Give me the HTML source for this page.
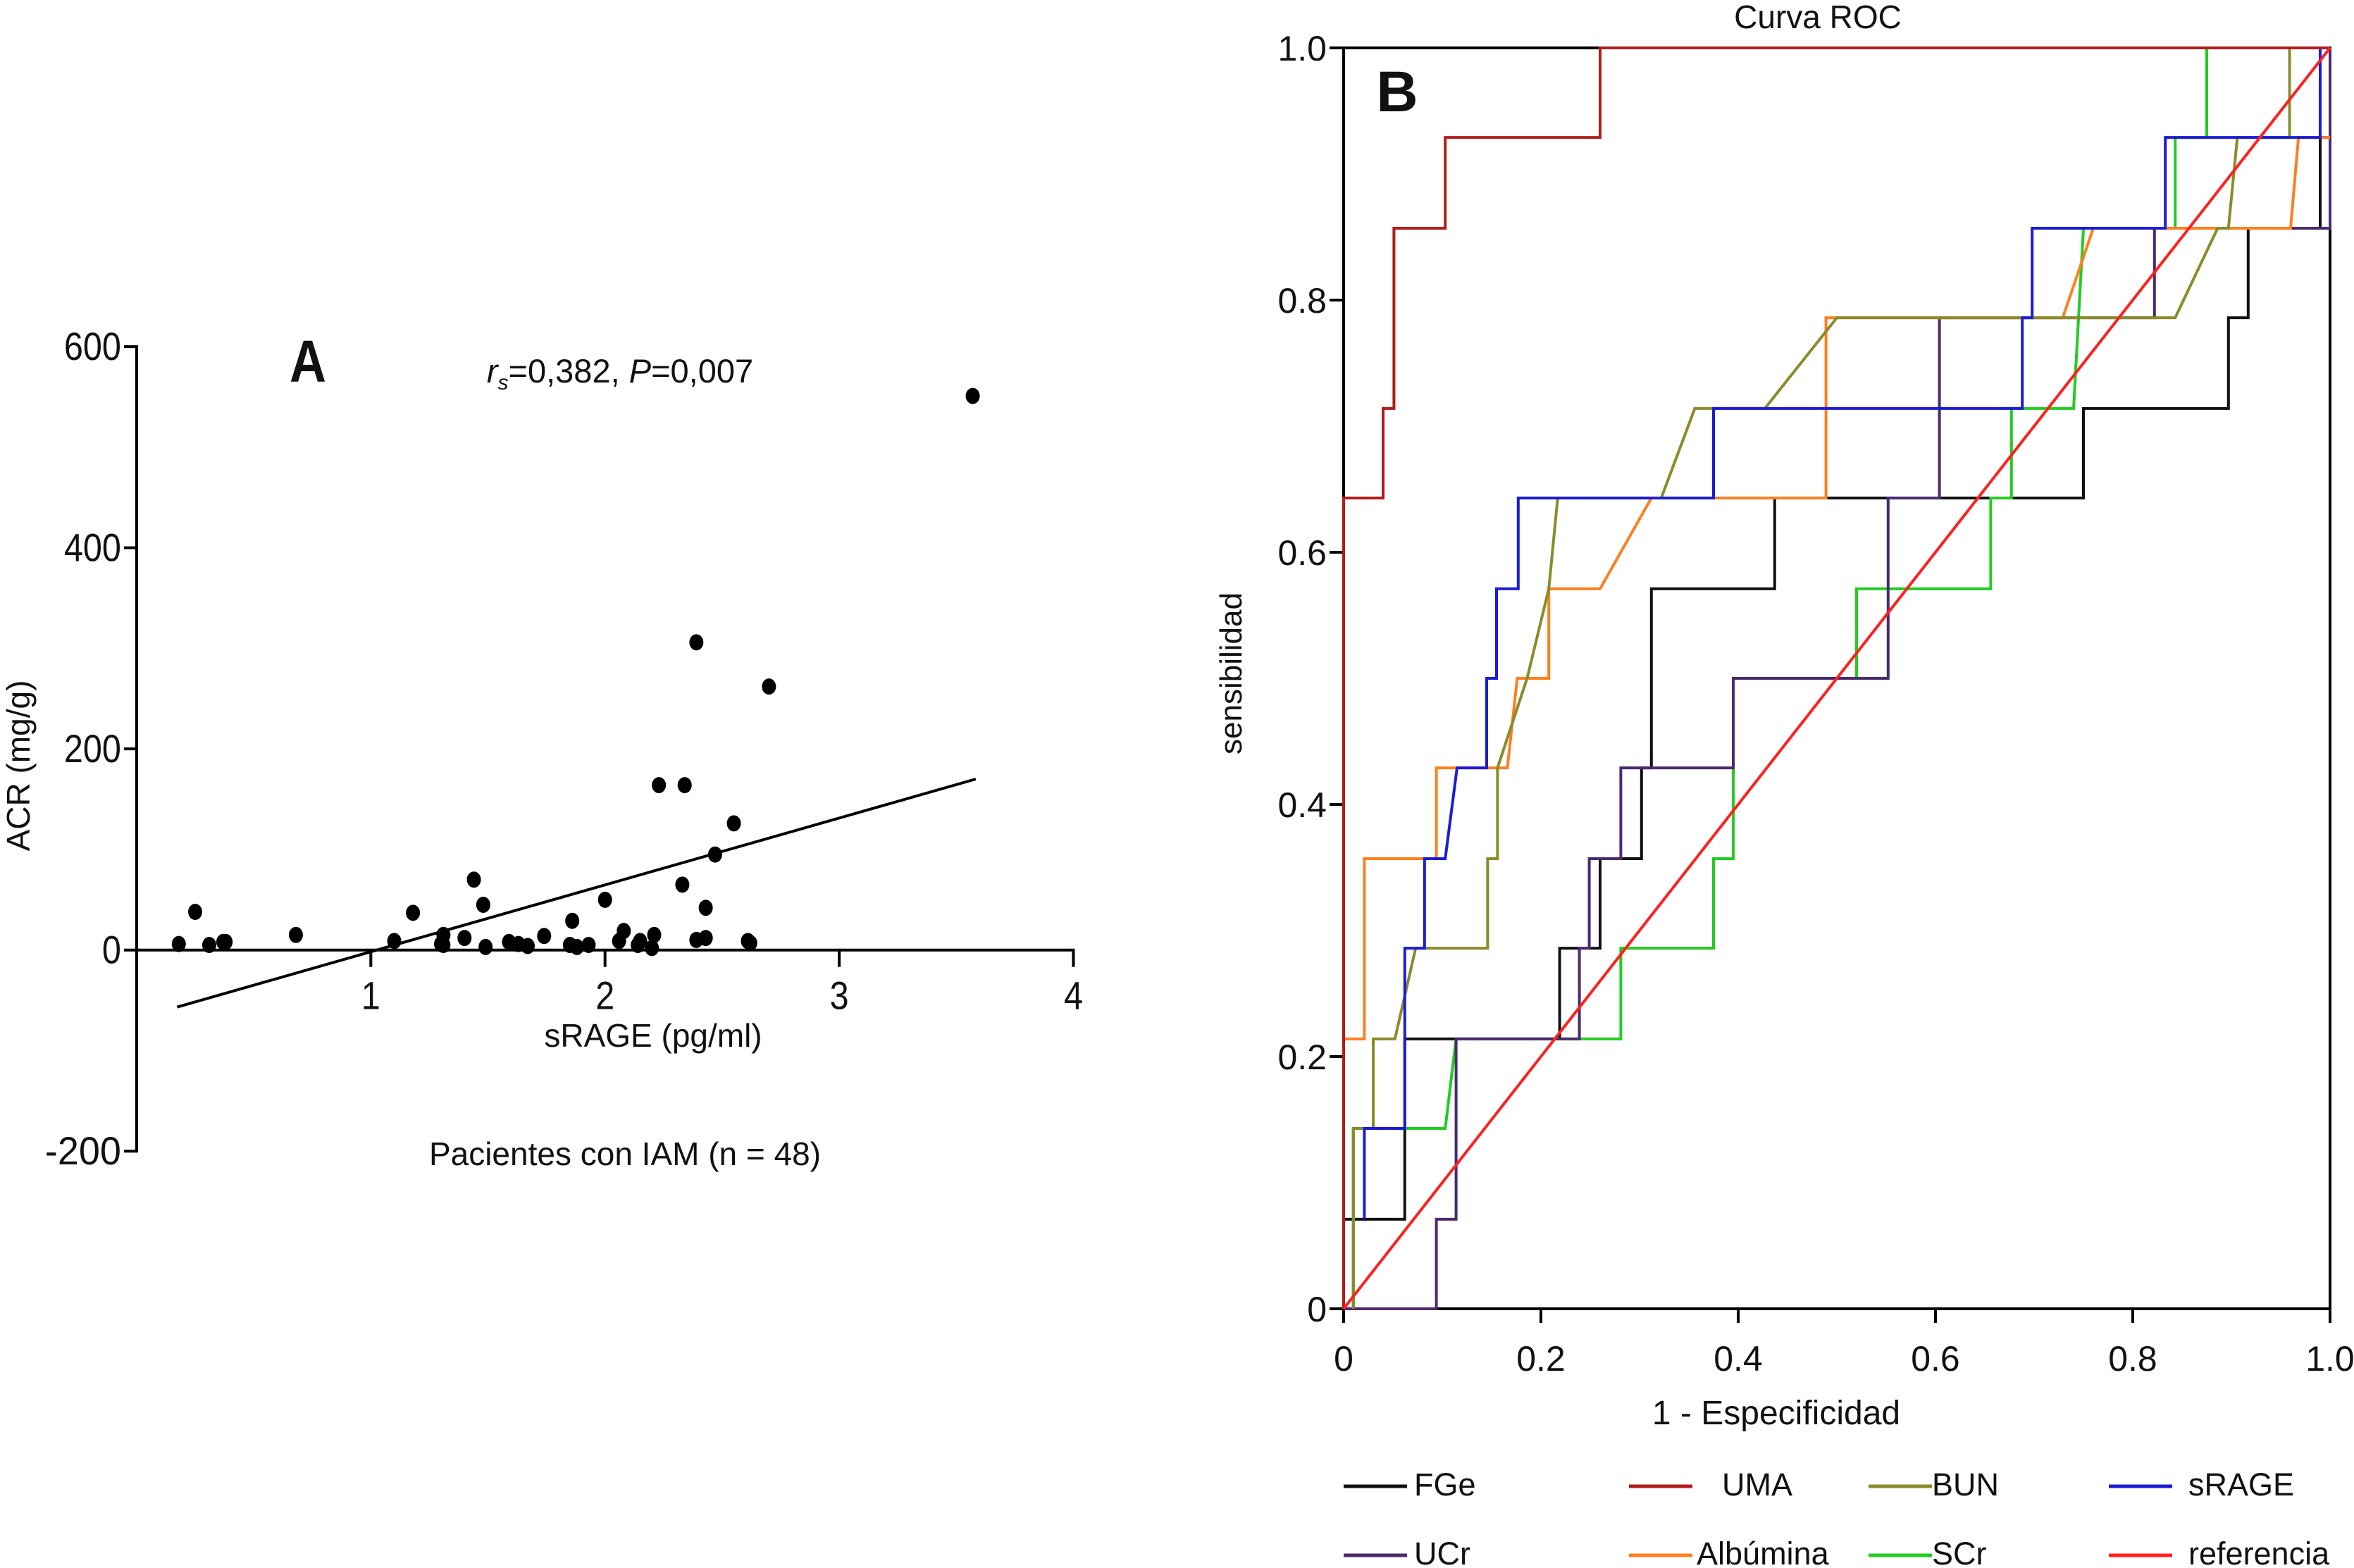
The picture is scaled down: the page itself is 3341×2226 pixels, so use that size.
<!DOCTYPE html>
<html><head><meta charset="utf-8"><style>
html,body{margin:0;padding:0;background:#fff;}
svg{display:block;font-family:"Liberation Sans",Arial,sans-serif;}
</style></head><body>
<svg id="chart" xmlns="http://www.w3.org/2000/svg" width="3341" height="2226" viewBox="0 0 3341 2226">
<rect width="3341" height="2226" fill="#fff"/>
<g id="panelA"></g>
<g id="panelB"></g>
</svg>
<script>
// ---------- Panel A data ----------
const aXTicks = [1, 2, 3, 4];
const aYTicks = [600, 400, 200, 0, -200];
const sragX = [0.18,0.25,0.31,0.37,0.38,0.68,1.10,1.18,1.30,1.31,1.31,1.40,1.44,1.48,1.49,1.59,1.63,1.67,1.74,1.86,1.85,1.88,1.93,2.00,2.06,2.08,2.14,2.15,2.20,2.21,2.23,2.34,2.33,2.39,2.39,2.43,2.43,2.47,2.55,2.61,2.62,2.70,3.57];
const acrY  = [6,38,5,8,8,15,9,37,6,15,5,12,70,45,3,8,6,4,14,29,5,3,5,50,9,19,5,9,2,15,164,164,65,306,10,12,42,95,126,9,7,262,551];
const fitX = [0.173, 3.583];
const fitY = [-56.7, 170];

// ---------- Panel B data ----------
const bTicks = [0, 0.2, 0.4, 0.6, 0.8, 1.0];
const bTickLabels = ["0","0.2","0.4","0.6","0.8","1.0"];
const rocNames = ["FGe","SCr","UCr","Albúmina","BUN","sRAGE","UMA","referencia"];
const rocColors = ["#111111","#22cc22","#4b2a6e","#ff7f1e","#8b8b2a","#1c1cd6","#b21c1c","#ff2020"];
const fgeFpr = [0,0,0.062,0.062,0.219,0.219,0.26,0.26,0.302,0.302,0.312,0.312,0.437,0.437,0.75,0.75,0.897,0.897,0.917,0.917,0.99,0.99,1,1];
const fgeTpr = [0,0.071,0.071,0.214,0.214,0.286,0.286,0.357,0.357,0.429,0.429,0.571,0.571,0.643,0.643,0.714,0.714,0.786,0.786,0.857,0.857,0.929,0.929,1];
const ucrFpr = [0,0.094,0.094,0.114,0.114,0.239,0.239,0.249,0.249,0.281,0.281,0.395,0.395,0.552,0.552,0.604,0.604,0.822,0.822,1,1];
const ucrTpr = [0,0,0.071,0.071,0.214,0.214,0.286,0.286,0.357,0.357,0.429,0.429,0.5,0.5,0.643,0.643,0.786,0.786,0.857,0.857,1];
const scrFpr = [0.01,0.01,0.103,0.114,0.281,0.281,0.375,0.375,0.395,0.395,0.52,0.52,0.656,0.656,0.677,0.677,0.74,0.75,0.843,0.843,0.875,0.875,1];
const scrTpr = [0,0.143,0.143,0.214,0.214,0.286,0.286,0.357,0.357,0.5,0.5,0.571,0.571,0.643,0.643,0.714,0.714,0.857,0.857,0.929,0.929,1,1];
const albFpr = [0,0,0.021,0.021,0.094,0.094,0.166,0.176,0.208,0.208,0.26,0.312,0.489,0.489,0.729,0.76,0.96,0.968,1];
const albTpr = [0,0.214,0.214,0.357,0.357,0.429,0.429,0.5,0.5,0.571,0.571,0.643,0.643,0.786,0.786,0.857,0.857,0.929,0.929];
const bunFpr = [0.0097,0.0097,0.03,0.03,0.052,0.073,0.146,0.146,0.156,0.156,0.186,0.208,0.217,0.322,0.356,0.427,0.5,0.843,0.886,0.897,0.906,0.959,0.959,1];
const bunTpr = [0,0.143,0.143,0.214,0.214,0.286,0.286,0.357,0.357,0.429,0.5,0.571,0.643,0.643,0.714,0.714,0.786,0.786,0.857,0.857,0.929,0.929,1,1];
const sragFpr = [0.021,0.021,0.062,0.062,0.082,0.082,0.103,0.115,0.145,0.145,0.155,0.155,0.177,0.177,0.375,0.375,0.688,0.688,0.698,0.698,0.833,0.833,0.99,0.99,1];
const sragTpr = [0.071,0.143,0.143,0.286,0.286,0.357,0.357,0.429,0.429,0.5,0.5,0.571,0.571,0.643,0.643,0.714,0.714,0.786,0.786,0.857,0.857,0.929,0.929,1,1];
const umaFpr = [0,0,0.04,0.04,0.051,0.051,0.103,0.103,0.26,0.26,1];
const umaTpr = [0,0.643,0.643,0.714,0.714,0.857,0.857,0.929,0.929,1,1];
const refFpr = [0,1];
const refTpr = [0,1];

const NS = "http://www.w3.org/2000/svg";
function mk(parent, tag, attrs, text){
  const e = document.createElementNS(NS, tag);
  for (const k in attrs) e.setAttribute(k, attrs[k]);
  if (text !== undefined) e.textContent = text;
  parent.appendChild(e);
  return e;
}

// ---------- Panel A ----------
const A = document.getElementById('panelA');
const ax = v => 193.9 + 332.4 * v;
const ay = v => 1348.7 - 1.4276 * v;
let el;
el = mk(A,'line',{x1:ax(0),y1:ay(600)-2,x2:ax(0),y2:ay(-200)+2,stroke:'#000','stroke-width':4});


el = mk(A,'line',{x1:ax(0),y1:ay(0),x2:ax(4)+2,y2:ay(0),stroke:'#000','stroke-width':4});


aYTicks.forEach(t=>{
  const l = mk(A,'line',{x1:ax(0)-18,y1:ay(t),x2:ax(0),y2:ay(t),stroke:'#000','stroke-width':4});
  
  
  const s = String(t);
  const tx = mk(A,'text',{x:ax(0)-22,y:ay(t)+19,'text-anchor':'end','font-size':56,textLength:s.length*27,lengthAdjust:'spacingAndGlyphs',fill:'#111'},s);
  
  
});
aXTicks.forEach(t=>{
  const l = mk(A,'line',{x1:ax(t),y1:ay(0),x2:ax(t),y2:ay(0)+24,stroke:'#000','stroke-width':4});
  
  
  const tx = mk(A,'text',{x:ax(t),y:ay(0)+84,'text-anchor':'middle','font-size':56,textLength:27,lengthAdjust:'spacingAndGlyphs',fill:'#111'},String(t));
  
  
});
el = mk(A,'line',{x1:ax(fitX[0]),y1:ay(fitY[0]),x2:ax(fitX[1]),y2:ay(fitY[1]),stroke:'#000','stroke-width':4});


sragX.forEach((v,i)=>{
  const d = mk(A,'ellipse',{cx:ax(v),cy:ay(acrY[i]),rx:10,ry:11.5,fill:'#000'});
  
  
});
el = mk(A,'text',{x:437,y:542,'text-anchor':'middle','font-size':84,'font-weight':'bold',textLength:52,lengthAdjust:'spacingAndGlyphs',fill:'#111'},'A');


el = mk(A,'text',{x:880,y:543,'text-anchor':'middle','font-size':47,fill:'#111'});
el.innerHTML = '<tspan font-style="italic">r</tspan><tspan font-style="italic" font-size="30" dy="10">s</tspan><tspan dy="-10">=0,382, </tspan><tspan font-style="italic">P</tspan><tspan>=0,007</tspan>';


el = mk(A,'text',{x:0,y:0,'text-anchor':'middle','font-size':46,fill:'#111',transform:'translate(42,1087) rotate(-90)'},'ACR (mg/g)');


el = mk(A,'text',{x:927,y:1486,'text-anchor':'middle','font-size':46,fill:'#111'},'sRAGE (pg/ml)');


el = mk(A,'text',{x:887,y:1654,'text-anchor':'middle','font-size':46,fill:'#111'},'Pacientes con IAM (n = 48)');



// ---------- Panel B ----------
const B = document.getElementById('panelB');
const bx = v => 1907 + 1400 * v;
const by = v => 1858 - 1790 * v;
el = mk(B,'rect',{x:bx(0),y:by(1),width:1400,height:1790,fill:'none',stroke:'#000','stroke-width':4});


bTicks.forEach((t,i)=>{
  const l1 = mk(B,'line',{x1:bx(0)-20,y1:by(t),x2:bx(0),y2:by(t),stroke:'#000','stroke-width':4});
  
  
  const t1 = mk(B,'text',{x:bx(0)-24,y:by(t)+18,'text-anchor':'end','font-size':50,fill:'#111'},bTickLabels[i]);
  
  
  const l2 = mk(B,'line',{x1:bx(t),y1:by(0),x2:bx(t),y2:by(0)+20,stroke:'#000','stroke-width':4});
  
  
  const t2 = mk(B,'text',{x:bx(t),y:by(0)+88,'text-anchor':'middle','font-size':50,fill:'#111'},bTickLabels[i]);
  
  
});
const rocF = [fgeFpr,scrFpr,ucrFpr,albFpr,bunFpr,sragFpr,umaFpr,refFpr];
const rocT = [fgeTpr,scrTpr,ucrTpr,albTpr,bunTpr,sragTpr,umaTpr,refTpr];
rocF.forEach((f,k)=>{
  const pts = f.map((v,i)=>bx(v).toFixed(1)+','+by(rocT[k][i]).toFixed(1)).join(' ');
  const p = mk(B,'polyline',{points:pts,fill:'none',stroke:rocColors[k],'stroke-width':4,'stroke-linejoin':'miter'});
  
  
});
el = mk(B,'text',{x:2580,y:40,'text-anchor':'middle','font-size':46,fill:'#111'},'Curva ROC');


el = mk(B,'text',{x:1983,y:158,'text-anchor':'middle','font-size':82,'font-weight':'bold',fill:'#111'},'B');


el = mk(B,'text',{x:2521,y:2022,'text-anchor':'middle','font-size':48,fill:'#111'},'1 - Especificidad');


el = mk(B,'text',{x:0,y:0,'text-anchor':'middle','font-size':44,fill:'#111',transform:'translate(1762,956) rotate(-90)'},'sensibilidad');



// legend: FGe, UMA, BUN, sRAGE / UCr, Albúmina, SCr, referencia
const legOrder = [0,6,4,5,2,3,1,7];
const legLineX = [1907,2312,2652,2993];
const legTextX = [2007,2444,2742,3106];
const legRowY = [2107,2205];
legOrder.forEach((k,j)=>{
  const col = j%4, row = Math.floor(j/4);
  const g = mk(B,'g',{});
  
  
  const l = mk(g,'line',{x1:legLineX[col],y1:legRowY[row]+3,x2:legLineX[col]+90,y2:legRowY[row]+3,stroke:rocColors[k],'stroke-width':5});
  
  
  let tx = legTextX[col];
  if (rocNames[k]==='Albúmina') tx = 2408;
  const t = mk(g,'text',{x:tx,y:legRowY[row]+16,'font-size':45,fill:'#111'},rocNames[k]);
  
  
});
</script>
</body></html>
